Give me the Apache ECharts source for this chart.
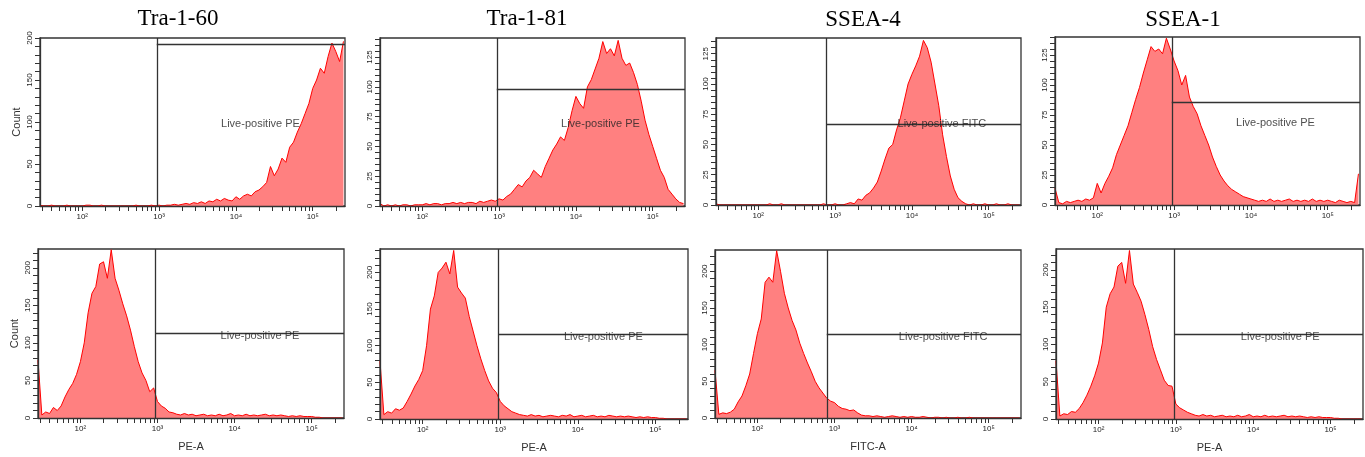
<!DOCTYPE html>
<html>
<head>
<meta charset="utf-8">
<script src="https://cdn.jsdelivr.net/npm/echarts@6/dist/echarts.min.js"></script>
<style>
  html, body { margin: 0; padding: 0; background: #fff; }
  #chart { width: 1365px; height: 457px; }
</style>
</head>
<body>
<div id="chart"></div>
<script>
// Flow cytometry histograms: stained (top row) vs isotype control (bottom row).
// x = log10 of fluorescence, bins of 0.05 decade starting at 10^1.45
const BIN_START = 1.45, BIN_STEP = 0.05
const X_MIN = 1.45, X_MAX = 5.42

const TITLES = ['Tra-1-60', 'Tra-1-81', 'SSEA-4', 'SSEA-1']
const X_NAMES = ['PE-A', 'PE-A', 'FITC-A', 'PE-A']
const GATE_NAMES = ['Live-positive PE', 'Live-positive PE', 'Live-positive FITC', 'Live-positive PE',
  'Live-positive PE', 'Live-positive PE', 'Live-positive FITC', 'Live-positive PE']
const X_TICK_POS = [2, 3, 4, 5]
const X_TICK_LABELS = ['10²', '10³', '10⁴', '10⁵']

// per panel: top row 0..3, bottom row 4..7
const Y_MAX = [200, 141, 138, 140, 225, 232, 229, 228]
const Y_LABEL_STEP = [50, 25, 25, 25, 50, 50, 50, 50]
const Y_TICK_STEP = [10, 5, 5, 5, 10, 10, 10, 10]
const GATE_X = [2.97, 2.97, 2.89, 2.97, 2.97, 2.98, 2.90, 2.98]   // log10
const GATE_Y = [192, 98, 67, 86, 113, 116, 114, 114]
const LABEL_X = [4.32, 4.32, 4.39, 4.32, 4.33, 4.33, 4.41, 4.35]
const LABEL_Y = [98, 69, 67, 68, 109, 112, 110, 110]

// counts per bin (80 bins, 10^1.45 .. 10^5.40)
const TRA160_STAIN = [
  1, 0, 0, 1, 0, 0, 0, 1, 0, 0,
  0, 0, 1, 1, 0, 0, 1, 0, 0, 0,
  0, 0, 0, 0, 0, 1, 0, 0, 0, 1,
  0, 1, 0, 1, 1, 2, 1, 2, 3, 2,
  4, 3, 5, 3, 6, 5, 8, 6, 9, 7,
  6, 11, 8, 12, 14, 12, 17, 19, 23, 28,
  47, 36, 44, 57, 52, 70, 76, 88, 98, 110,
  122, 140, 150, 164, 158, 178, 194, 184, 172, 196]
const TRA181_STAIN = [
  2, 0, 1, 0, 1, 0, 1, 1, 0, 1,
  1, 1, 2, 1, 2, 2, 1, 2, 2, 3,
  2, 3, 2, 3, 3, 2, 4, 3, 4, 5,
  4, 6, 5, 8, 10, 14, 18, 16, 21, 24,
  30, 27, 24, 33, 40, 47, 52, 58, 55, 66,
  80, 92, 86, 82, 100, 106, 115, 124, 138, 128,
  132, 126, 139, 124, 118, 120, 112, 102, 88, 72,
  60, 50, 40, 30, 24, 14, 10, 6, 3, 2]
const SSEA4_STAIN = [
  1, 0, 0, 0, 0, 0, 0, 0, 0, 0,
  0, 0, 0, 0, 1, 0, 0, 1, 0, 0,
  0, 0, 0, 0, 0, 0, 0, 0, 1, 0,
  0, 1, 0, 0, 1, 2, 1, 5, 4, 8,
  10, 14, 19, 28, 38, 47, 50, 62, 72, 86,
  100, 108, 115, 123, 136, 130, 118, 100, 82, 58,
  40, 24, 13, 6, 3, 1, 0, 1, 0, 0,
  1, 0, 0, 1, 0, 0, 1, 0, 0, 0]
const SSEA1_STAIN = [
  14, 2, 1, 3, 2, 3, 4, 3, 5, 4,
  6, 18, 10, 18, 24, 31, 42, 50, 58, 66,
  77, 88, 98, 110, 121, 132, 128, 130, 126, 139,
  130, 120, 112, 100, 108, 90, 82, 76, 66, 58,
  50, 40, 32, 25, 20, 16, 13, 11, 9, 7,
  6, 5, 4, 3, 4, 3, 5, 3, 4, 3,
  4, 5, 3, 4, 3, 4, 3, 5, 3, 4,
  3, 4, 3, 2, 4, 3, 2, 3, 2, 26]
const TRA160_ISO = [
  77, 4, 8, 6, 14, 10, 16, 28, 38, 46,
  58, 75, 100, 140, 166, 175, 205, 208, 186, 224,
  186, 170, 152, 136, 117, 95, 75, 60, 50, 35,
  40, 22, 16, 13, 8, 7, 5, 4, 6, 4,
  5, 3, 4, 5, 3, 4, 3, 5, 3, 4,
  6, 3, 4, 3, 5, 3, 4, 3, 4, 5,
  3, 4, 3, 4, 3, 2, 3, 2, 3, 2,
  2, 2, 1, 1, 0, 0, 0, 0, 0, 0]
const TRA181_ISO = [
  79, 6, 10, 8, 14, 12, 15, 24, 34, 45,
  54, 66, 100, 150, 168, 200, 206, 214, 198, 230,
  180, 172, 165, 140, 120, 100, 82, 66, 52, 42,
  36, 24, 18, 14, 10, 8, 6, 5, 4, 6,
  4, 5, 3, 4, 5, 4, 3, 5, 4, 6,
  3, 4, 5, 3, 4, 5, 3, 4, 3, 5,
  4, 3, 4, 3, 4, 3, 2, 3, 2, 3,
  2, 2, 1, 1, 0, 0, 0, 0, 0, 0]
const SSEA4_ISO = [
  65, 5, 7, 6, 8, 12, 22, 30, 44, 60,
  88, 115, 135, 185, 192, 185, 228, 200, 170, 150,
  133, 120, 102, 88, 75, 63, 50, 41, 34, 27,
  23, 21, 16, 13, 12, 10, 11, 7, 4, 3,
  3, 2, 3, 2, 1, 2, 3, 2, 1, 2,
  1, 2, 1, 1, 2, 1, 0, 1, 1, 0,
  1, 0, 0, 1, 0, 0, 1, 0, 0, 0,
  0, 0, 0, 0, 0, 0, 0, 0, 0, 0]
const SSEA1_ISO = [
  78, 4, 7, 6, 10, 9, 14, 22, 32, 44,
  58, 75, 102, 150, 168, 177, 205, 210, 182, 226,
  181, 170, 158, 140, 120, 97, 80, 66, 52, 45,
  44, 20, 15, 12, 9, 7, 5, 4, 6, 4,
  5, 3, 4, 5, 3, 4, 3, 5, 3, 4,
  6, 3, 4, 3, 5, 3, 4, 3, 4, 5,
  3, 4, 3, 4, 3, 2, 3, 2, 3, 2,
  2, 2, 1, 1, 0, 0, 0, 0, 0, 0]
const HISTS = [TRA160_STAIN, TRA181_STAIN, SSEA4_STAIN, SSEA1_STAIN,
  TRA160_ISO, TRA181_ISO, SSEA4_ISO, SSEA1_ISO]

// layout (px)
const GRIDS = [
  { left: 40, top: 38, width: 305, height: 168 },
  { left: 380, top: 38, width: 305, height: 168 },
  { left: 716, top: 38, width: 305, height: 167 },
  { left: 1055, top: 37, width: 305, height: 168 },
  { left: 38, top: 249, width: 306, height: 169 },
  { left: 380, top: 249, width: 308, height: 170 },
  { left: 715, top: 250, width: 306, height: 168 },
  { left: 1056, top: 249, width: 307, height: 170 }
]
const TITLE_POS = [[178, 19], [527, 19], [863, 20], [1183, 20]]

const SANS = '"Liberation Sans", Arial, sans-serif'
const AXIS_COL = '#333'

// minor log ticks (1..9 x 10^d) inside the axis range
const LOG_TICKS = []
for (let d = 1; d <= 5; d++) for (let k = 1; k <= 9; k++) {
  const v = d + Math.log10(k)
  if (v >= X_MIN && v <= X_MAX) LOG_TICKS.push(v)
}
const steps = (step, max) => { const a = []; for (let v = 0; v <= max + 1e-9; v += step) a.push(v); return a }

const chart = echarts.init(document.getElementById('chart'))
const grid = [], xAxis = [], yAxis = [], series = []

HISTS.forEach((counts, i) => {
  const g = GRIDS[i], ymax = Y_MAX[i], bottom = i >= 4
  grid.push(Object.assign({ show: true, borderColor: AXIS_COL, borderWidth: 1.3, backgroundColor: '#fff' }, g))
  xAxis.push({
    type: 'value', gridIndex: i, min: X_MIN, max: X_MAX, z: 5,
    axisLine: { show: true, onZero: false, lineStyle: { color: AXIS_COL, width: 1.3 } },
    axisTick: { show: true, length: 5, customValues: LOG_TICKS, lineStyle: { color: AXIS_COL } },
    axisLabel: {
      show: true, customValues: X_TICK_POS, margin: 7, fontSize: 8, color: '#222', fontFamily: SANS,
      formatter: v => X_TICK_LABELS[X_TICK_POS.indexOf(Math.round(v))]
    },
    splitLine: { show: false },
    name: bottom ? X_NAMES[i - 4] : '', nameLocation: 'middle', nameGap: 23,
    nameTextStyle: { fontSize: 11, color: '#333', fontFamily: SANS }
  })
  yAxis.push({
    type: 'value', gridIndex: i, min: 0, max: ymax, z: 5,
    axisLine: { show: true, lineStyle: { color: AXIS_COL, width: 1.3 } },
    axisTick: { show: true, length: 5, customValues: steps(Y_TICK_STEP[i], ymax), lineStyle: { color: AXIS_COL } },
    axisLabel: {
      show: true, customValues: steps(Y_LABEL_STEP[i], ymax), rotate: 90, margin: 6,
      fontSize: 8, color: '#222', fontFamily: SANS
    },
    splitLine: { show: false },
    name: (i === 0 || i === 4) ? 'Count' : '', nameLocation: 'middle', nameGap: 18,
    nameTextStyle: { fontSize: 11, color: '#333', fontFamily: SANS }
  })
  const gx = GATE_X[i], gy = GATE_Y[i]
  series.push({
    type: 'line', xAxisIndex: i, yAxisIndex: i, symbol: 'none', z: 2,
    data: counts.map((c, k) => [+(BIN_START + k * BIN_STEP).toFixed(2), c]),
    lineStyle: { color: '#ff0000', width: 1 },
    areaStyle: { color: '#ff8080', opacity: 1 },
    markLine: {
      silent: true, symbol: 'none', label: { show: false },
      lineStyle: { color: AXIS_COL, width: 1.3, type: 'solid' },
      emphasis: { disabled: true },
      data: [
        [{ coord: [gx, 0] }, { coord: [gx, ymax] }],
        [{ coord: [gx, gy] }, { coord: [X_MAX, gy] }]
      ]
    }
  })
  series.push({
    type: 'scatter', xAxisIndex: i, yAxisIndex: i, symbolSize: 0, silent: true, z: 6,
    data: [[LABEL_X[i], LABEL_Y[i]]],
    label: {
      show: true, position: 'inside', formatter: GATE_NAMES[i],
      fontSize: 11, color: '#222', fontFamily: SANS
    }
  })
})

chart.setOption({
  animation: false,
  backgroundColor: '#fff',
  grid, xAxis, yAxis, series,
  graphic: TITLES.map((t, i) => ({
    type: 'text', x: TITLE_POS[i][0], y: TITLE_POS[i][1],
    style: {
      text: t, fill: '#000', fontSize: 23, fontFamily: '"Liberation Serif", "DejaVu Serif", serif',
      align: 'center', verticalAlign: 'middle'
    }
  }))
})
</script>
</body>
</html>
